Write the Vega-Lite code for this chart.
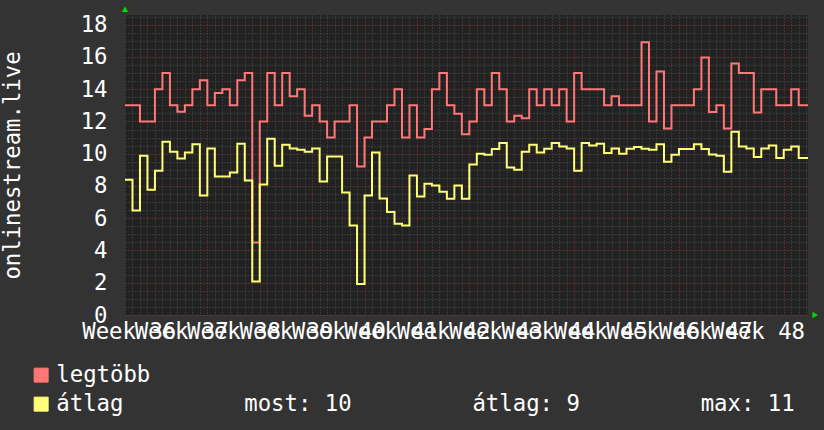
{
  "$schema": "https://vega.github.io/schema/vega-lite/v6.json",
  "width": 683,
  "height": 300,
  "autosize": {"type": "none"},
  "padding": {"left": 125, "top": 15, "right": 16, "bottom": 115},
  "background": "#333333",
  "config": {
    "view": {"fill": "#222222", "stroke": null},
    "font": "DejaVu Sans Mono",
    "axis": {
      "labelFont": "DejaVu Sans Mono",
      "labelFontSize": 22.3,
      "labelColor": "#ffffff",
      "titleFont": "DejaVu Sans Mono",
      "titleFontSize": 22.3,
      "titleColor": "#ffffff",
      "titleFontWeight": "normal",
      "domain": false,
      "ticks": false,
      "tickSize": 0,
      "gridDash": [1, 2],
      "gridWidth": 1,
      "labelOverlap": false,
      "labelFlush": false,
      "labelBound": false
    }
  },
  "layer": [
    {
      "data": {
        "values": [
          {"day": 0, "legtöbb": 13, "átlag": 8.38},
          {"day": 1, "legtöbb": 13, "átlag": 6.48},
          {"day": 2, "legtöbb": 12, "átlag": 9.87},
          {"day": 3, "legtöbb": 12, "átlag": 7.76},
          {"day": 4, "legtöbb": 14, "átlag": 8.94},
          {"day": 5, "legtöbb": 15, "átlag": 10.74},
          {"day": 6, "legtöbb": 13, "átlag": 10.12},
          {"day": 7, "legtöbb": 12.6, "átlag": 9.71},
          {"day": 8, "legtöbb": 13, "átlag": 10.08},
          {"day": 9, "legtöbb": 14, "átlag": 10.58},
          {"day": 10, "legtöbb": 14.55, "átlag": 7.41},
          {"day": 11, "legtöbb": 13, "átlag": 10.33},
          {"day": 12, "legtöbb": 13.76, "átlag": 8.59},
          {"day": 13, "legtöbb": 14, "átlag": 8.59},
          {"day": 14, "legtöbb": 13, "átlag": 8.84},
          {"day": 15, "legtöbb": 14.55, "átlag": 10.62},
          {"day": 16, "legtöbb": 15, "átlag": 8.34},
          {"day": 17, "legtöbb": 4.49, "átlag": 2.07},
          {"day": 18, "legtöbb": 12, "átlag": 8.09},
          {"day": 19, "legtöbb": 15, "átlag": 10.93},
          {"day": 20, "legtöbb": 13, "átlag": 9.25},
          {"day": 21, "legtöbb": 15, "átlag": 10.55},
          {"day": 22, "legtöbb": 13.56, "átlag": 10.33},
          {"day": 23, "legtöbb": 14, "átlag": 10.24},
          {"day": 24, "legtöbb": 12.36, "átlag": 10.12},
          {"day": 25, "legtöbb": 13, "átlag": 10.33},
          {"day": 26, "legtöbb": 12, "átlag": 8.28},
          {"day": 27, "legtöbb": 11, "átlag": 9.83},
          {"day": 28, "legtöbb": 12, "átlag": 9.83},
          {"day": 29, "legtöbb": 12, "átlag": 7.59},
          {"day": 30, "legtöbb": 13, "átlag": 5.55},
          {"day": 31, "legtöbb": 9.2, "átlag": 1.92},
          {"day": 32, "legtöbb": 11, "átlag": 7.41},
          {"day": 33, "legtöbb": 12, "átlag": 10.08},
          {"day": 34, "legtöbb": 12, "átlag": 7.22},
          {"day": 35, "legtöbb": 13, "átlag": 6.39},
          {"day": 36, "legtöbb": 14, "átlag": 5.65},
          {"day": 37, "legtöbb": 11, "átlag": 5.55},
          {"day": 38, "legtöbb": 13, "átlag": 8.65},
          {"day": 39, "legtöbb": 11, "átlag": 7.35},
          {"day": 40, "legtöbb": 11.53, "átlag": 8.13},
          {"day": 41, "legtöbb": 14, "átlag": 8.03},
          {"day": 42, "legtöbb": 15, "átlag": 7.64},
          {"day": 43, "legtöbb": 13, "átlag": 7.2},
          {"day": 44, "legtöbb": 12.48, "átlag": 8.03},
          {"day": 45, "legtöbb": 11.2, "átlag": 7.2},
          {"day": 46, "legtöbb": 12, "átlag": 9.33},
          {"day": 47, "legtöbb": 14, "átlag": 10.0},
          {"day": 48, "legtöbb": 13, "átlag": 9.93},
          {"day": 49, "legtöbb": 15, "átlag": 10.29},
          {"day": 50, "legtöbb": 14, "átlag": 10.66},
          {"day": 51, "legtöbb": 12, "átlag": 9.15},
          {"day": 52, "legtöbb": 12.36, "átlag": 9.0},
          {"day": 53, "legtöbb": 12.2, "átlag": 10.12},
          {"day": 54, "legtöbb": 14, "átlag": 10.55},
          {"day": 55, "legtöbb": 13, "átlag": 10.08},
          {"day": 56, "legtöbb": 14, "átlag": 10.31},
          {"day": 57, "legtöbb": 13, "átlag": 10.66},
          {"day": 58, "legtöbb": 14, "átlag": 10.45},
          {"day": 59, "legtöbb": 12, "átlag": 10.33},
          {"day": 60, "legtöbb": 15, "átlag": 8.94},
          {"day": 61, "legtöbb": 14, "átlag": 10.66},
          {"day": 62, "legtöbb": 14, "átlag": 10.51},
          {"day": 63, "legtöbb": 14, "átlag": 10.62},
          {"day": 64, "legtöbb": 13, "átlag": 10.04},
          {"day": 65, "legtöbb": 13.56, "átlag": 10.33},
          {"day": 66, "legtöbb": 13, "átlag": 10.0},
          {"day": 67, "legtöbb": 13, "átlag": 10.31},
          {"day": 68, "legtöbb": 13, "átlag": 10.41},
          {"day": 69, "legtöbb": 16.91, "átlag": 10.31},
          {"day": 70, "legtöbb": 12, "átlag": 10.24},
          {"day": 71, "legtöbb": 15.1, "átlag": 10.58},
          {"day": 72, "legtöbb": 11.57, "átlag": 9.5},
          {"day": 73, "legtöbb": 13, "átlag": 9.93},
          {"day": 74, "legtöbb": 13, "átlag": 10.29},
          {"day": 75, "legtöbb": 13, "átlag": 10.29},
          {"day": 76, "legtöbb": 14, "átlag": 10.58},
          {"day": 77, "legtöbb": 15.96, "átlag": 10.29},
          {"day": 78, "legtöbb": 12.58, "átlag": 9.95},
          {"day": 79, "legtöbb": 13, "átlag": 9.87},
          {"day": 80, "legtöbb": 11.57, "átlag": 8.88},
          {"day": 81, "legtöbb": 15.59, "átlag": 11.36},
          {"day": 82, "legtöbb": 15, "átlag": 10.45},
          {"day": 83, "legtöbb": 15, "átlag": 10.33},
          {"day": 84, "legtöbb": 12.56, "átlag": 9.79},
          {"day": 85, "legtöbb": 14, "átlag": 10.33},
          {"day": 86, "legtöbb": 14, "átlag": 10.51},
          {"day": 87, "legtöbb": 13, "átlag": 9.73},
          {"day": 88, "legtöbb": 13, "átlag": 10.24},
          {"day": 89, "legtöbb": 14, "átlag": 10.45},
          {"day": 90, "legtöbb": 13, "átlag": 9.73},
          {"day": 91.24, "legtöbb": 13, "átlag": 9.73}
        ]
      },
      "transform": [{"fold": ["legtöbb", "átlag"], "as": ["series", "value"]}],
      "mark": {"type": "line", "interpolate": "step-after", "strokeWidth": 2},
      "encoding": {
        "x": {
          "field": "day",
          "type": "quantitative",
          "scale": {"domain": [0, 91.24], "nice": false, "zero": false},
          "axis": {
            "title": null,
            "tickCount": 1000,
            "values": [0,0.5,1,2,3,4,5,6,7,7.5,8,9,10,11,12,13,14,14.5,15,16,17,18,19,20,21,21.5,22,23,24,25,26,27,28,28.5,29,30,31,32,33,34,35,35.5,36,37,38,39,40,41,42,42.5,43,44,45,46,47,48,49,49.5,50,51,52,53,54,55,56,56.5,57,58,59,60,61,62,63,63.5,64,65,66,67,68,69,70,70.5,71,72,73,74,75,76,77,77.5,78,79,80,81,82,83,84,84.5,85,86,87,88,89,90,91],
            "labelExpr": "datum.value % 1 !== 0 ? 'Week ' + (36 + floor(datum.value / 7)) : ''",
            "labelOverlap": false,
            "labelFlush": false,
            "labelBound": false,
            "labelPadding": 5,
            "labelAngle": 0,
            "gridColor": {"condition": {"test": "(datum.value - 4) % 7 === 0", "value": "#883838"}, "value": "#4d4d4d"},
            "gridOpacity": {"condition": {"test": "datum.value % 1 !== 0", "value": 0}, "value": 1}
          }
        },
        "y": {
          "field": "value",
          "type": "quantitative",
          "scale": {"domain": [0, 18.6], "nice": false, "zero": true},
          "axis": {
            "title": "onlinestream.live",
            "tickCount": 1000,
            "values": [0,0.5,1,1.5,2,2.5,3,3.5,4,4.5,5,5.5,6,6.5,7,7.5,8,8.5,9,9.5,10,10.5,11,11.5,12,12.5,13,13.5,14,14.5,15,15.5,16,16.5,17,17.5,18,18.5],
            "labelExpr": "datum.value % 2 === 0 ? format(datum.value, 'd') : ''",
            "labelOverlap": false,
            "labelPadding": 18,
            "gridColor": {"condition": {"test": "datum.value % 2 === 0", "value": "#883838"}, "value": "#4d4d4d"},
            "titleX": -113,
            "titleY": 150,
            "titleAngle": 270,
            "titleAlign": "center",
            "titleBaseline": "middle"
          }
        },
        "color": {
          "field": "series",
          "type": "nominal",
          "scale": {"domain": ["legtöbb", "átlag"], "range": ["#ff7777", "#ffff77"]},
          "legend": {
            "title": null,
            "orient": "none",
            "legendX": -95,
            "legendY": 349,
            "symbolType": "square",
            "symbolSize": 196,
            "labelFont": "DejaVu Sans Mono",
            "labelFontSize": 22.3,
            "labelColor": "#ffffff",
            "labelLimit": 0,
            "labelOffset": 4,
            "rowPadding": 6,
            "padding": 0,
            "labelExpr": "datum.label === 'átlag' ? 'átlag\u00a0\u00a0\u00a0\u00a0\u00a0\u00a0\u00a0\u00a0\u00a0most: 10\u00a0\u00a0\u00a0\u00a0\u00a0\u00a0\u00a0\u00a0\u00a0átlag: 9\u00a0\u00a0\u00a0\u00a0\u00a0\u00a0\u00a0\u00a0\u00a0max: 11' : datum.label",
            "encode": {
              "symbols": {
                "update": {
                  "fill": {"scale": "color", "field": "value"},
                  "stroke": {"value": "#000000"},
                  "strokeWidth": {"value": 1},
                  "opacity": {"value": 1}
                }
              }
            }
          }
        }
      }
    },
    {
      "data": {"values": [{}]},
      "mark": {"type": "point", "shape": "triangle-up", "filled": true, "color": "#00dd00", "size": 40, "opacity": 1},
      "encoding": {
        "x": {"datum": 0, "type": "quantitative"},
        "y": {"datum": 18.95, "type": "quantitative"}
      }
    },
    {
      "data": {"values": [{}]},
      "mark": {"type": "point", "shape": "triangle-right", "filled": true, "color": "#00dd00", "size": 40, "opacity": 1},
      "encoding": {
        "x": {"datum": 92.2, "type": "quantitative"},
        "y": {"datum": 0, "type": "quantitative"}
      }
    }
  ]
}
